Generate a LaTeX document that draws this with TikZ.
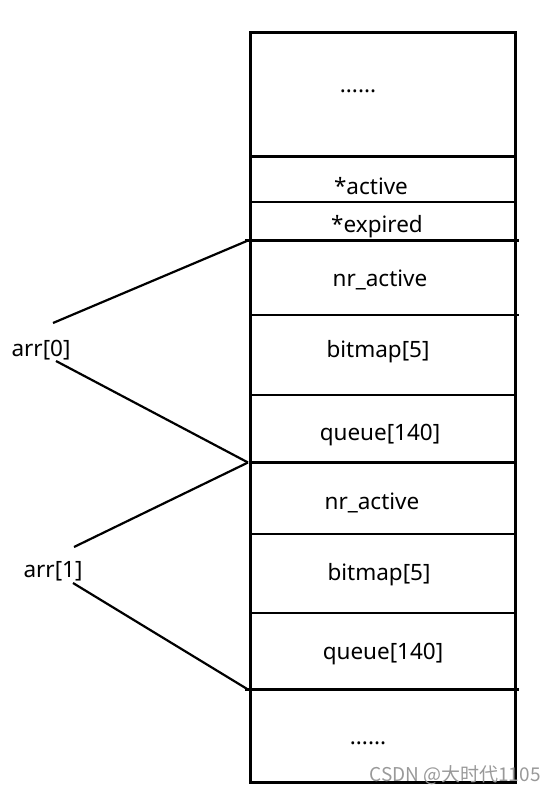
\documentclass[tikz,border=0pt]{standalone}
\usepackage{fontspec}
\setmainfont{Noto Sans}
\newfontfamily\cjkfont{Noto Sans CJK SC}
\begin{document}
\begin{tikzpicture}[x=1pt,y=-1pt,
  lbl/.style={font=\fontsize{22.5}{26}\selectfont, inner sep=0pt, anchor=center},
  sep/.style={line width=2.2pt},
  link/.style={line width=2.2pt},
  frame/.style={line width=3pt}]
\useasboundingbox (0,0) rectangle (555,794);
% frame
\draw[frame] (250,33) rectangle (515,782);
% separators
\draw[sep] (250,156.5) -- (515,156.5);
\draw[sep] (250,202) -- (515,202);
\draw[sep] (245,240.5) -- (519,240.5);
\draw[sep] (250,315) -- (519,315);
\draw[sep] (250,395) -- (515,395);
\draw[sep] (250,462.5) -- (515,462.5);
\draw[sep] (250,534) -- (515,534);
\draw[sep] (250,613) -- (515,613);
\draw[sep] (245,689.5) -- (519,689.5);
% texts
\node[lbl] (dots1) at (358,91) {......};
\node[lbl] (act) at (371,186) {*active};
\node[lbl] (exp) at (377,227) {*expired};
\node[lbl] (nr0) at (380,280) {nr\_active};
\node[lbl] (bm0) at (378,352) {bitmap[5]};
\node[lbl] (q0) at (380,435) {queue[140]};
\node[lbl] (nr1) at (372,503) {nr\_active};
\node[lbl] (bm1) at (379,575) {bitmap[5]};
\node[lbl] (q1) at (383,654) {queue[140]};
\node[lbl] (dots2) at (368,743) {......};
\node[lbl] (arr0) at (41,350) {arr[0]};
\node[lbl] (arr1) at (53,571) {arr[1]};
% connector ends
\coordinate (a0t) at (53,323);
\coordinate (a0b) at (56,361);
\coordinate (a1t) at (74,547);
\coordinate (a1b) at (73,583);
\coordinate (p0) at (248,240.5);
\coordinate (p1) at (248,462.5);
\coordinate (p2) at (248,689.5);
\draw[link] (a0t) -- (p0);
\draw[link] (a0b) -- (p1);
\draw[link] (a1t) -- (p1);
\draw[link] (a1b) -- (p2);
% watermark
\node[inner sep=0pt, text=black!40, font=\cjkfont\fontsize{19}{21}\selectfont] (wm) at (455,775) {CSDN @大时代1105};
\end{tikzpicture}
\end{document}
